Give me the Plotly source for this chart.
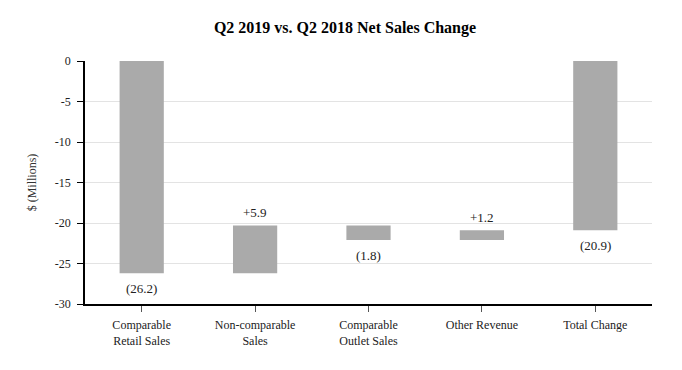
import plotly.graph_objects as go

categories = ["Comparable<br>Retail Sales", "Non-comparable<br>Sales", "Comparable<br>Outlet Sales",
              "Other Revenue", "Total Change"]
changes = [-26.2, 5.9, -1.8, 1.2, -20.9]
is_total = [False, False, False, False, True]
labels = ["(26.2)", "+5.9", "(1.8)", "+1.2", "(20.9)"]
y_ticks = [0, -5, -10, -15, -20, -25, -30]

# Compute waterfall bases
bases = []
running = 0.0
for c, tot in zip(changes, is_total):
    if tot:
        bases.append(0.0)
    else:
        bases.append(running)
        running = round(running + c, 4)

font_family = "Liberation Serif"

fig = go.Figure()
fig.add_trace(go.Bar(
    x=categories, y=changes, base=bases,
    marker=dict(color="#aaaaaa", line=dict(width=0)),
    width=0.39, hoverinfo="skip",
))

annotations = []
for cat, c, b, lab in zip(categories, changes, bases, labels):
    end = b + c
    if c >= 0:
        annotations.append(dict(x=cat, y=end, text=lab, showarrow=False, xref="x", yref="y",
                                yanchor="bottom", yshift=3,
                                font=dict(family=font_family, size=13, color="#222222")))
    else:
        annotations.append(dict(x=cat, y=end, text=lab, showarrow=False, xref="x", yref="y",
                                yanchor="top", yshift=-6,
                                font=dict(family=font_family, size=13, color="#222222")))

fig.update_layout(
    width=674, height=362,
    margin=dict(l=77, r=30, t=53, b=66, autoexpand=False),
    paper_bgcolor="white", plot_bgcolor="white",
    showlegend=False,
    title=dict(text="<b>Q2 2019 vs. Q2 2018 Net Sales Change</b>", x=0.5, xanchor="center",
               y=0.9475, yanchor="middle",
               font=dict(family=font_family, size=16, color="black")),
    font=dict(family=font_family, size=12, color="#222222"),
    annotations=annotations,
)
fig.update_yaxes(
    range=[-30, 0], tickvals=y_ticks, ticktext=[str(v) for v in y_ticks],
    showgrid=True, gridcolor="#e3e3e3", gridwidth=1, zeroline=False,
    showline=True, linecolor="black", linewidth=1.5,
    ticks="outside", ticklen=6, tickcolor="black", tickwidth=1,
    tickfont=dict(family=font_family, size=12, color="#222222"),
    ticklabelstandoff=4,
    title=dict(text="$ (Millions)", font=dict(family=font_family, size=12, color="#333333"), standoff=16),
    automargin=False,
)
fig.update_xaxes(
    showline=True, linecolor="black", linewidth=1.5,
    ticks="outside", ticklen=6, tickcolor="#555555", tickwidth=1,
    tickfont=dict(family=font_family, size=12, color="#222222"),
    ticklabelstandoff=3,
    showgrid=False, automargin=False,
)

fig.write_html("out.html")
